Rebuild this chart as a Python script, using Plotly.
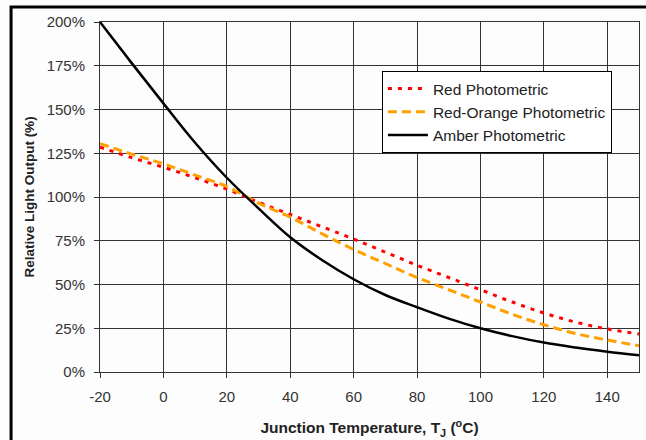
import plotly.graph_objects as go

temps = [-20, -10, 0, 10, 20, 30, 40, 50, 60, 70, 80, 90, 100, 110, 120, 130, 140, 150]
red = [128.5, 122.5, 117, 111, 104.5, 97, 90, 83, 76, 68.5, 61, 54, 47, 40, 33.7, 28.5, 24.6, 21.7]
red_orange = [130.5, 124.5, 119, 112.5, 106, 96.5, 88.5, 79, 70, 62, 54, 47, 40, 33, 27, 22, 18.3, 15]
amber = [200, 176.5, 153.5, 131, 111, 93.5, 77, 64, 53, 44, 37, 30.5, 25, 20.5, 16.8, 14, 11.6, 9.5]

x_ticks = [-20, 0, 20, 40, 60, 80, 100, 120, 140]
x_labels = ["-20", "0", "20", "40", "60", "80", "100", "120", "140"]
y_ticks = [0, 25, 50, 75, 100, 125, 150, 175, 200]
y_labels = [f"{v}%" for v in y_ticks]

FONT = "Liberation Sans, Arial, sans-serif"

fig = go.Figure()
fig.add_trace(go.Scatter(x=temps, y=red, mode="lines", name="Red Photometric",
                         line=dict(color="#ff0000", width=3, dash="4px,6px", shape="spline")))
fig.add_trace(go.Scatter(x=temps, y=red_orange, mode="lines", name="Red-Orange Photometric",
                         line=dict(color="#ffa000", width=3, dash="9px,5px", shape="spline")))
fig.add_trace(go.Scatter(x=temps, y=amber, mode="lines", name="Amber Photometric",
                         line=dict(color="#000000", width=2.5, shape="spline")))

tick_font = dict(family=FONT, size=15, color="#333333")
fig.update_xaxes(range=[-20, 150], tickvals=x_ticks, ticktext=x_labels,
                 showgrid=True, gridcolor="#333333", gridwidth=1,
                 showline=True, linecolor="#333333", linewidth=1, mirror=True,
                 ticks="outside", ticklen=5, tickcolor="#333333", tickfont=tick_font,
                 ticklabelstandoff=6, zeroline=False, automargin=False,
                 title=dict(text="<b>Junction Temperature, T<sub>J</sub> (<sup>o</sup>C)</b>",
                            font=dict(family=FONT, size=15.5, color="#222222"), standoff=18))
fig.update_yaxes(range=[0, 200], tickvals=y_ticks, ticktext=y_labels,
                 showgrid=True, gridcolor="#333333", gridwidth=1,
                 showline=True, linecolor="#333333", linewidth=1, mirror=True,
                 ticks="outside", ticklen=5, tickcolor="#333333", tickfont=tick_font,
                 ticklabelstandoff=6, zeroline=False, automargin=False,
                 title=dict(text="<b>Relative Light Output (%)</b>",
                            font=dict(family=FONT, size=13.5, color="#222222"), standoff=8))

fig.update_layout(
    width=646, height=440,
    margin=dict(l=100, r=7, t=22, b=68),
    paper_bgcolor="#fdfdfd", plot_bgcolor="#fdfdfd",
    showlegend=True,
    legend=dict(x=0.523, y=0.86, xanchor="left", yanchor="top",
                bgcolor="#ffffff", bordercolor="#000000", borderwidth=1,
                font=dict(family=FONT, size=15.5, color="#222222"),
                itemwidth=40),
    shapes=[dict(type="path", xref="paper", yref="paper",
                 path="M -0.165,-0.3 L -0.165,1.043 L 1.05,1.043",
                 line=dict(color="#000000", width=3))],
)

fig.write_html("out.html",
               config={"displayModeBar": False},
               post_script="document.body.style.margin='0';document.body.style.overflow='hidden';")
